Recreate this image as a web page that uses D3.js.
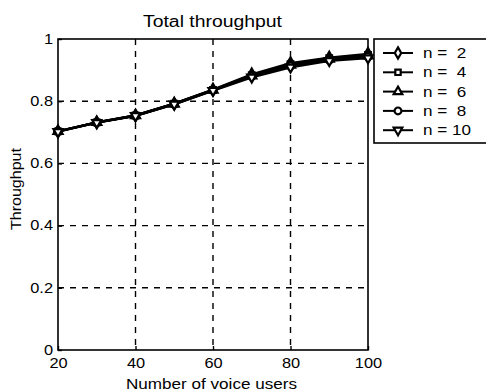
<!DOCTYPE html>
<html><head><meta charset="utf-8">
<script src="https://cdn.jsdelivr.net/npm/d3@7"></script>
<style>body{margin:0;background:#fff}svg{display:block}text{font-family:"Liberation Sans",Arial,sans-serif;fill:#000}</style>
</head><body>
<script>
const voiceUsers = [20,30,40,50,60,70,80,90,100];
const seriesNames = ["n =  2","n =  4","n =  6","n =  8","n = 10"];
const seriesMarkers = ["diamond","square","triangle","circle","triangleDown"];
const n2  = [0.703,0.732,0.754,0.792,0.837,0.886,0.922,0.940,0.952];
const n4  = [0.703,0.732,0.754,0.792,0.836,0.884,0.919,0.938,0.949];
const n6  = [0.703,0.732,0.754,0.791,0.836,0.882,0.916,0.936,0.946];
const n8  = [0.703,0.731,0.753,0.791,0.835,0.880,0.913,0.933,0.943];
const n10 = [0.702,0.731,0.753,0.790,0.834,0.877,0.909,0.930,0.939];
const seriesValues = [n2,n4,n6,n8,n10];
const xTicks = [20,40,60,80,100];
const yTicks = [0,0.2,0.4,0.6,0.8,1];
const yTickLabels = ["0","0.2","0.4","0.6","0.8","1"];

const W=486,H=392;
const L=58,R=368,T=39,B=350;
const svg=d3.select("body").append("svg").attr("width",W).attr("height",H);
const x=d3.scaleLinear().domain([20,100]).range([L,R]);
const y=d3.scaleLinear().domain([0,1]).range([B,T]);
const SX=1.17;

// grid
const g=svg.append("g");
g.selectAll(".gx").data(xTicks.slice(1,-1)).enter().append("line")
 .attr("x1",d=>x(d)).attr("x2",d=>x(d)).attr("y1",T).attr("y2",B)
 .attr("stroke","#000").attr("stroke-width",1.4).attr("stroke-dasharray","6,6");
g.selectAll(".gy").data(yTicks.slice(1,-1)).enter().append("line")
 .attr("y1",d=>y(d)).attr("y2",d=>y(d)).attr("x1",L).attr("x2",R)
 .attr("stroke","#000").attr("stroke-width",1.4).attr("stroke-dasharray","6,6");

// axes box
svg.append("rect").attr("x",L).attr("y",T).attr("width",R-L).attr("height",B-T)
 .attr("fill","none").attr("stroke","#000").attr("stroke-width",1.6);

const xAxis=d3.axisBottom(x).tickValues(xTicks).tickSize(-4).tickPadding(0).tickFormat(d3.format("d"));
const xa=svg.append("g").attr("transform",`translate(0,${B})`).call(xAxis);
xa.select(".domain").remove();
xa.selectAll("line").attr("stroke-width",1.4);
xa.selectAll("text").attr("font-size",14).attr("dy",null).attr("y",18)
  .attr("transform",`scale(${SX},1)`).style("font-family","Liberation Sans, Arial, sans-serif");
const yAxis=d3.axisLeft(y).tickValues(yTicks).tickSize(-4).tickPadding(0).tickFormat((d,i)=>yTickLabels[i]);
const ya=svg.append("g").attr("transform",`translate(${L},0)`).call(yAxis);
ya.select(".domain").remove();
ya.selectAll("line").attr("stroke-width",1.4);
ya.selectAll("text").attr("font-size",14).attr("x",-5/SX).attr("dy","0.3em")
  .attr("transform",`scale(${SX},1)`).style("font-family","Liberation Sans, Arial, sans-serif");

// series
const line=d3.line().x((d,i)=>x(voiceUsers[i])).y(d=>y(d));
const symMap={diamond:d3.symbolDiamond,square:d3.symbolSquare,triangle:d3.symbolTriangle,circle:d3.symbolCircle,triangleDown:d3.symbolTriangle};
function marker(sel,type,k){
  k=k||1;
  const sz = (type==="circle"?40:type==="square"?32:type==="diamond"?40:36)*k;
  sel.attr("d",d3.symbol().type(symMap[type]).size(sz)())
   .attr("fill","#fff").attr("stroke","#000").attr("stroke-width",2.2);
}
seriesValues.forEach((vals)=>{
  svg.append("path").datum(vals).attr("d",line).attr("fill","none").attr("stroke","#000").attr("stroke-width",2.4);
});
seriesValues.forEach((vals,si)=>{
  const type=seriesMarkers[si];
  svg.append("g").selectAll("path").data(vals).enter().append("path")
   .attr("transform",(d,i)=>`translate(${x(voiceUsers[i])},${y(d)})${type==="triangleDown"?" rotate(180)":""}`)
   .call(marker,type);
});

// title & labels
svg.append("text").attr("x",143).attr("y",27).attr("font-size",16)
  .attr("textLength",139).attr("lengthAdjust","spacingAndGlyphs").text("Total throughput");
svg.append("text").attr("x",126).attr("y",389).attr("font-size",15)
  .attr("textLength",171).attr("lengthAdjust","spacingAndGlyphs").text("Number of voice users");
svg.append("text").attr("transform",`translate(21,230) rotate(-90)`).attr("font-size",15)
  .attr("textLength",82).attr("lengthAdjust","spacingAndGlyphs").text("Throughput");

// legend
const lg=svg.append("g");
lg.append("rect").attr("x",374).attr("y",39).attr("width",130).attr("height",104).attr("fill","#fff").attr("stroke","#000").attr("stroke-width",1.6);
seriesNames.forEach((nm,i)=>{
  const yy=53+i*19.3;
  lg.append("line").attr("x1",383).attr("x2",413).attr("y1",yy).attr("y2",yy).attr("stroke","#000").attr("stroke-width",2);
  const type=seriesMarkers[i];
  lg.append("path").attr("transform",`translate(398,${yy})${type==="triangleDown"?" rotate(180)":""}`).call(marker,type,0.9);
  lg.append("text").attr("transform",`translate(423,${yy+5}) scale(1.22,1)`).attr("font-size",14)
    .attr("xml:space","preserve").style("white-space","pre").text(nm);
});
</script>
</body></html>
